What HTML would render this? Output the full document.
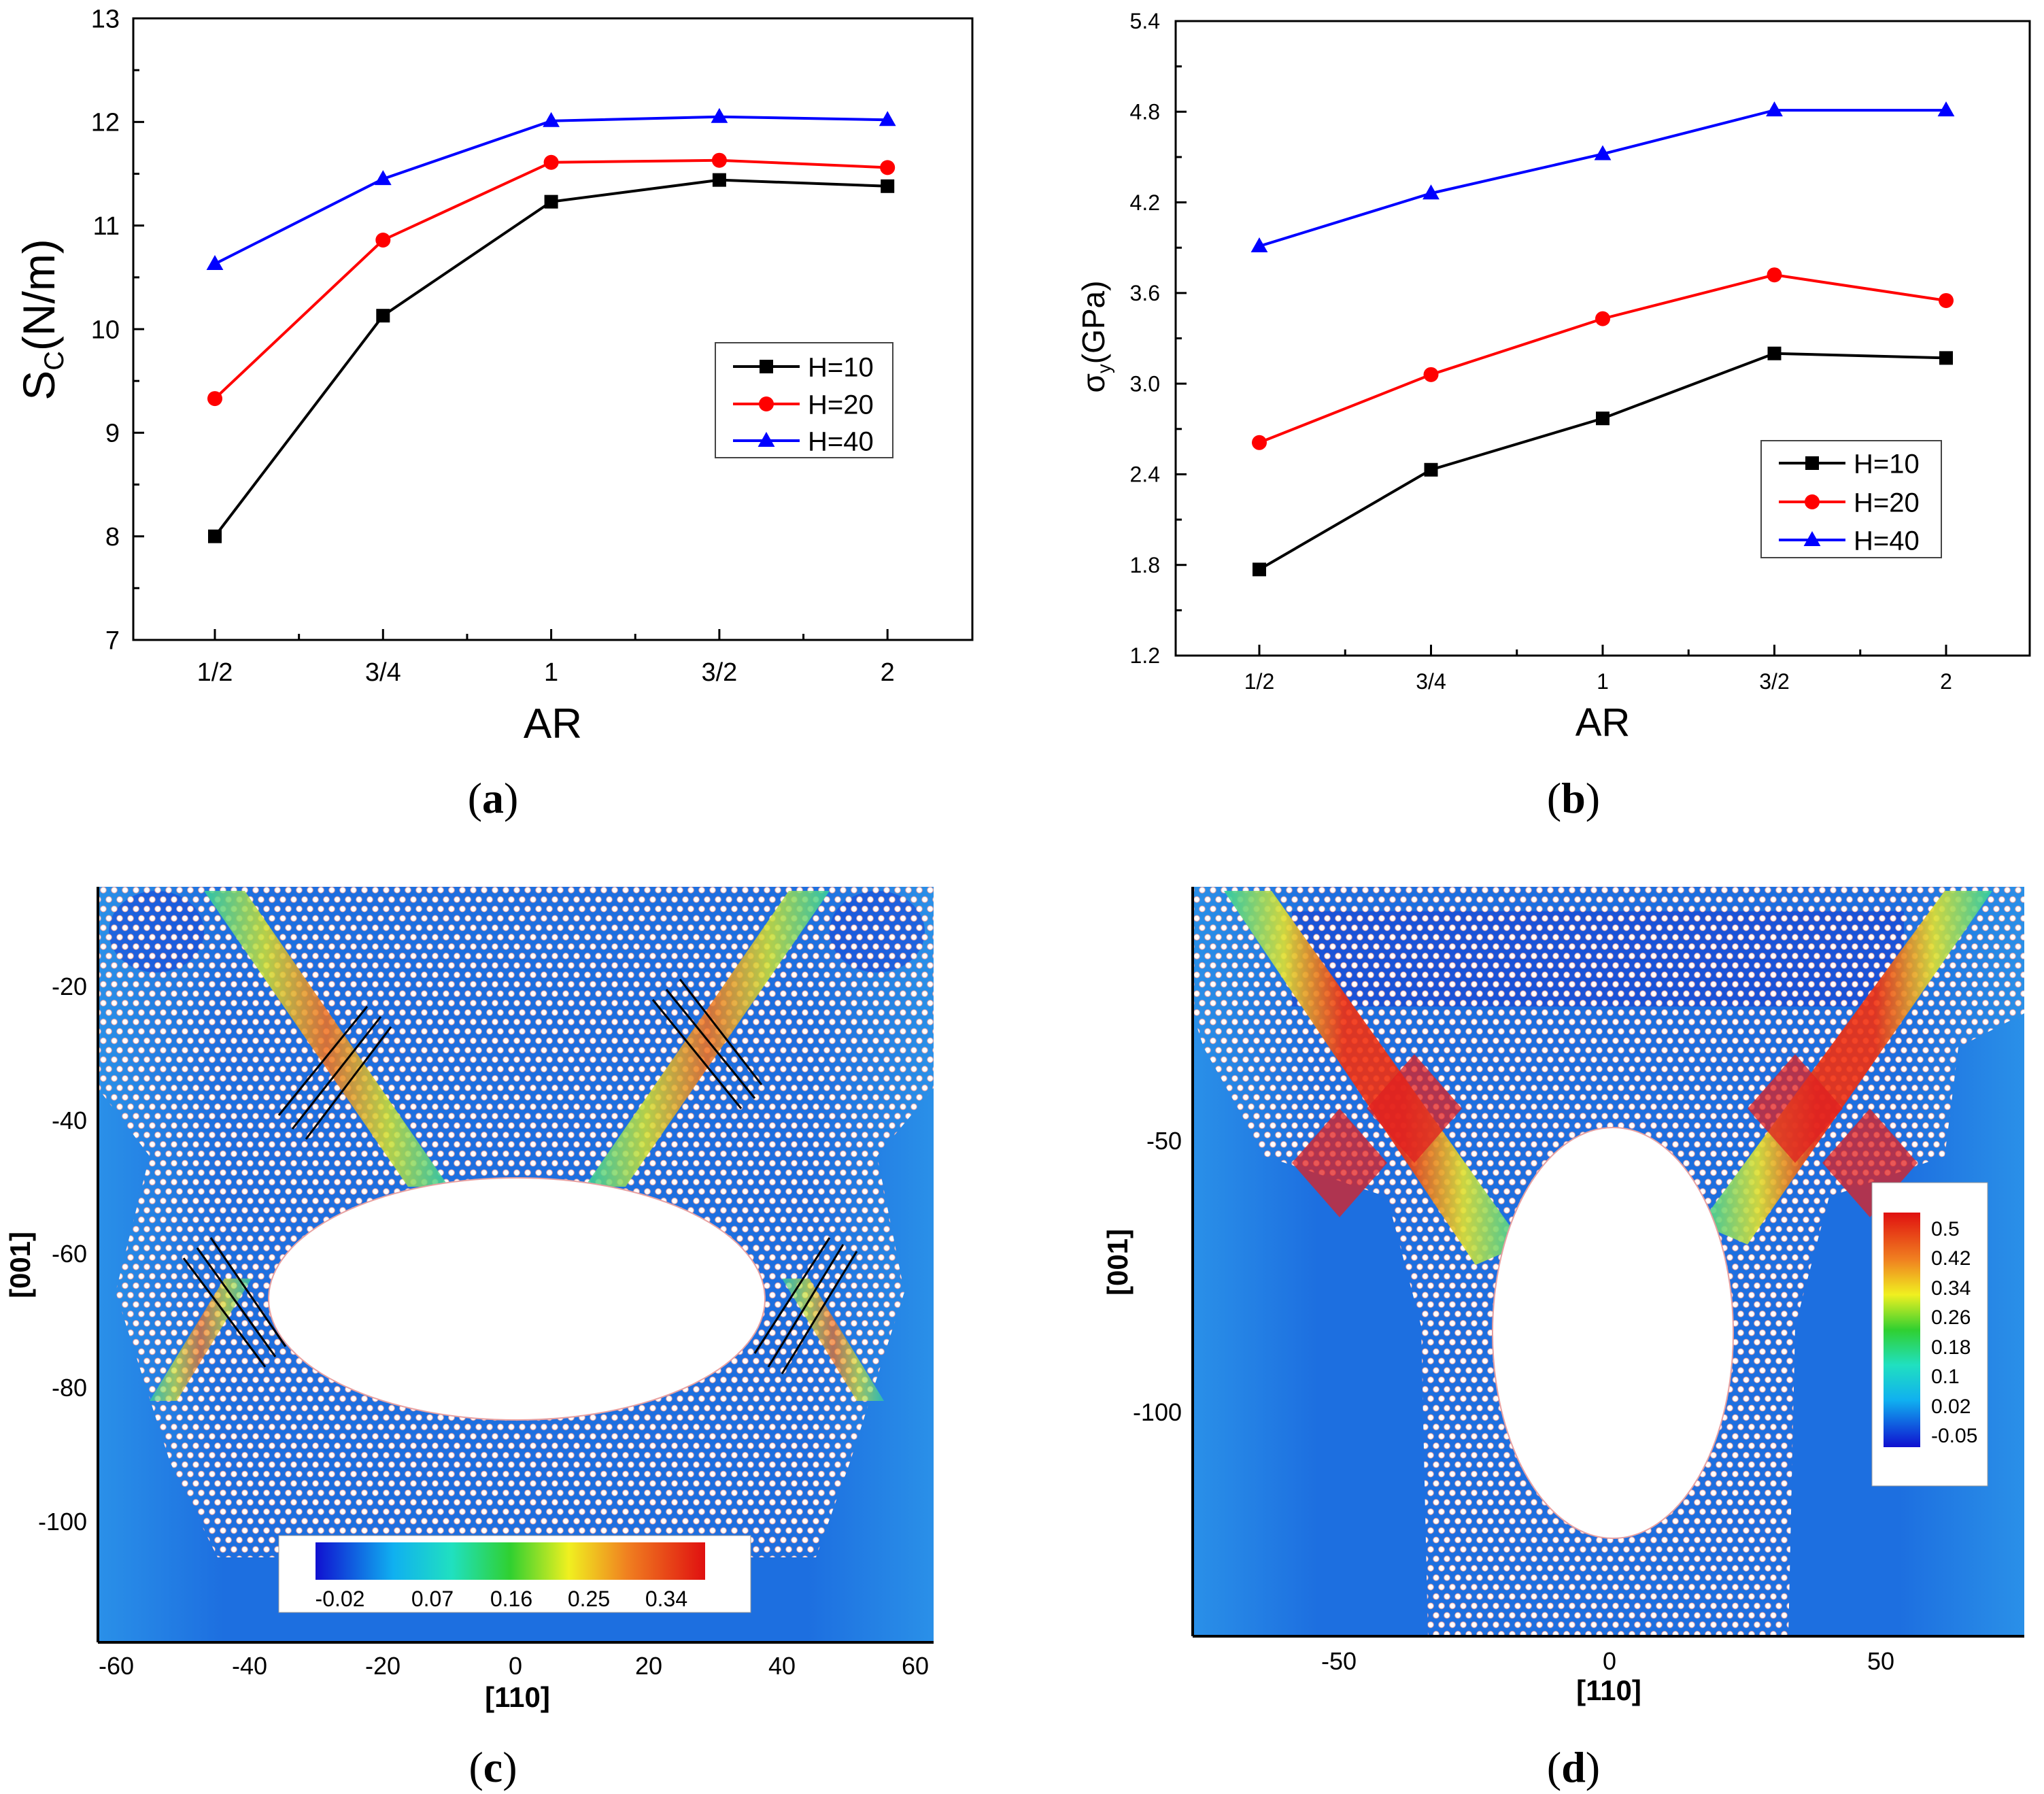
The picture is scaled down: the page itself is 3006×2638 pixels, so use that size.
<!DOCTYPE html>
<html><head><meta charset="utf-8"><style>
html,body{margin:0;padding:0;background:#fff;}
svg{display:block;font-family:"Liberation Sans",sans-serif;}
</style></head><body>
<svg id="fig" width="3006" height="2638" viewBox="0 0 3006 2638">
<defs>
<pattern id="lat" patternUnits="userSpaceOnUse" width="16" height="27.7">
<circle cx="8" cy="6.9" r="4.3" fill="#fff" stroke="#e8a0a0" stroke-width="1"/>
<circle cx="0" cy="20.8" r="4.3" fill="#fff" stroke="#e8a0a0" stroke-width="1"/>
<circle cx="16" cy="20.8" r="4.3" fill="#fff" stroke="#e8a0a0" stroke-width="1"/>
</pattern>
<linearGradient id="cbh" x1="0" x2="1" y1="0" y2="0">
<stop offset="0" stop-color="#1010d0"/><stop offset="0.2" stop-color="#10b0f0"/><stop offset="0.35" stop-color="#20e0c0"/><stop offset="0.5" stop-color="#30d030"/><stop offset="0.65" stop-color="#f0f020"/><stop offset="0.8" stop-color="#f08020"/><stop offset="1" stop-color="#e01010"/>
</linearGradient>
<linearGradient id="cbv" x1="0" x2="0" y1="1" y2="0">
<stop offset="0" stop-color="#1010d0"/><stop offset="0.2" stop-color="#10b0f0"/><stop offset="0.35" stop-color="#20e0c0"/><stop offset="0.5" stop-color="#30d030"/><stop offset="0.65" stop-color="#f0f020"/><stop offset="0.8" stop-color="#f08020"/><stop offset="1" stop-color="#e01010"/>
</linearGradient>
<linearGradient id="bandC" x1="0" x2="1"><stop offset="0" stop-color="#30d0a0"/><stop offset="0.25" stop-color="#d0e030"/><stop offset="0.5" stop-color="#f07020"/><stop offset="0.75" stop-color="#d0e030"/><stop offset="1" stop-color="#30d0a0"/></linearGradient>
<linearGradient id="bandD" x1="0" x2="1"><stop offset="0" stop-color="#30d0a0"/><stop offset="0.2" stop-color="#e0e030"/><stop offset="0.4" stop-color="#f03010"/><stop offset="0.6" stop-color="#f03010"/><stop offset="0.8" stop-color="#e0e030"/><stop offset="1" stop-color="#30d0a0"/></linearGradient>
<linearGradient id="bgC" x1="0" x2="1"><stop offset="0" stop-color="#2a90e8"/><stop offset="0.15" stop-color="#1d6fe0"/><stop offset="0.85" stop-color="#1d6fe0"/><stop offset="1" stop-color="#2a90e8"/></linearGradient>
</defs>
<g id="chartA"></g>
<g id="chartB"></g>

<!-- Panel c -->
<g>
<rect x="144" y="1304" width="1229" height="1111" fill="url(#bgC)"/>
<ellipse cx="230" cy="1370" rx="70" ry="60" fill="#1848d8" opacity="0.6"/>
<ellipse cx="1290" cy="1370" rx="70" ry="60" fill="#1848d8" opacity="0.6"/>
<polygon points="144,1304 1373,1304 1373,1600 1290,1700 1330,1900 1250,2150 1200,2290 320,2290 250,2150 170,1900 220,1700 144,1600" fill="url(#lat)"/>
<polygon points="300,1310 360,1310 660,1745 600,1745" fill="url(#bandC)" opacity="0.85"/>
<polygon points="1160,1310 1220,1310 920,1745 860,1745" fill="url(#bandC)" opacity="0.85"/>
<polygon points="330,1880 370,1880 260,2060 220,2060" fill="url(#bandC)" opacity="0.7"/>
<polygon points="1150,1880 1190,1880 1300,2060 1260,2060" fill="url(#bandC)" opacity="0.7"/>
<ellipse cx="760" cy="1910" rx="365" ry="178" fill="#fff" stroke="#e8a0a0" stroke-width="2"/>
<g stroke="#000" stroke-width="3" fill="none">
<path d="M410 1640 L540 1480 M430 1660 L560 1495 M450 1675 L575 1510"/>
<path d="M960 1470 L1090 1630 M980 1455 L1110 1615 M1000 1440 L1120 1595"/>
<path d="M270 1850 L390 2010 M290 1835 L405 1995 M310 1820 L420 1980"/>
<path d="M1130 2010 L1240 1830 M1110 1990 L1220 1820 M1150 2020 L1260 1840"/>
</g>
<rect x="410" y="2258" width="694" height="113" fill="#fff" stroke="#999"/>
<rect x="464" y="2268" width="573" height="55" fill="url(#cbh)"/>
<g font-size="32" text-anchor="middle" fill="#000">
<text x="500" y="2362">-0.02</text><text x="636" y="2362">0.07</text><text x="752" y="2362">0.16</text><text x="866" y="2362">0.25</text><text x="980" y="2362">0.34</text>
</g>
<line x1="144" y1="1304" x2="144" y2="2415" stroke="#000" stroke-width="4"/>
<line x1="144" y1="2415" x2="1373" y2="2415" stroke="#000" stroke-width="4"/>
<g font-size="36" fill="#000" text-anchor="end">
<text x="128" y="1463">-20</text><text x="128" y="1660">-40</text><text x="128" y="1856">-60</text><text x="128" y="2053">-80</text><text x="128" y="2250">-100</text>
</g>
<g font-size="36" fill="#000" text-anchor="middle">
<text x="171" y="2462">-60</text><text x="367" y="2462">-40</text><text x="563" y="2462">-20</text><text x="758" y="2462">0</text><text x="954" y="2462">20</text><text x="1150" y="2462">40</text><text x="1346" y="2462">60</text>
</g>
<text x="761" y="2510" font-size="42" font-weight="bold" text-anchor="middle">[110]</text>
<text transform="translate(44,1860) rotate(-90)" font-size="42" font-weight="bold" text-anchor="middle">[001]</text>
</g>

<!-- Panel d -->
<g>
<rect x="1754" y="1304" width="1223" height="1102" fill="url(#bgC)"/>
<rect x="1900" y="1340" width="900" height="140" fill="#1838d0" opacity="0.5"/>
<polygon points="1754,1304 2977,1304 2977,1490 2880,1540 2860,1700 2690,1760 2640,1950 2630,2406 2100,2406 2090,1950 2040,1760 1860,1700 1770,1540 1754,1490" fill="url(#lat)"/>
<polygon points="1800,1310 1870,1310 2240,1830 2170,1860" fill="url(#bandD)" opacity="0.9"/>
<polygon points="2860,1310 2930,1310 2570,1830 2500,1800" fill="url(#bandD)" opacity="0.9"/>
<polygon points="2080,1550 2150,1630 2080,1710 2010,1630" fill="#e02020" opacity="0.75"/>
<polygon points="1970,1630 2040,1710 1970,1790 1900,1710" fill="#e02020" opacity="0.75"/>
<polygon points="2640,1550 2710,1630 2640,1710 2570,1630" fill="#e02020" opacity="0.75"/>
<polygon points="2750,1630 2820,1710 2750,1790 2680,1710" fill="#e02020" opacity="0.75"/>
<ellipse cx="2372" cy="1960" rx="177" ry="302" fill="#fff" stroke="#e8a0a0" stroke-width="2"/>
<rect x="2753" y="1739" width="170" height="446" fill="#fff" stroke="#999"/>
<rect x="2770" y="1783" width="54" height="345" fill="url(#cbv)"/>
<g font-size="30" fill="#000">
<text x="2840" y="1817">0.5</text><text x="2840" y="1860">0.42</text><text x="2840" y="1904">0.34</text><text x="2840" y="1947">0.26</text><text x="2840" y="1991">0.18</text><text x="2840" y="2034">0.1</text><text x="2840" y="2078">0.02</text><text x="2840" y="2121">-0.05</text>
</g>
<line x1="1754" y1="1304" x2="1754" y2="2406" stroke="#000" stroke-width="4"/>
<line x1="1754" y1="2406" x2="2977" y2="2406" stroke="#000" stroke-width="4"/>
<g font-size="36" fill="#000" text-anchor="end">
<text x="1738" y="1690">-50</text><text x="1738" y="2089">-100</text>
</g>
<g font-size="36" fill="#000" text-anchor="middle">
<text x="1969" y="2455">-50</text><text x="2367" y="2455">0</text><text x="2766" y="2455">50</text>
</g>
<text x="2366" y="2500" font-size="42" font-weight="bold" text-anchor="middle">[110]</text>
<text transform="translate(1658,1856) rotate(-90)" font-size="42" font-weight="bold" text-anchor="middle">[001]</text>
</g>

<g font-family="Liberation Serif, serif" font-size="64" text-anchor="middle" fill="#000">
<text x="725" y="1195">(<tspan font-weight="bold">a</tspan>)</text>
<text x="2314" y="1195">(<tspan font-weight="bold">b</tspan>)</text>
<text x="725" y="2620">(<tspan font-weight="bold">c</tspan>)</text>
<text x="2314" y="2620">(<tspan font-weight="bold">d</tspan>)</text>
</g>
</svg>
<script>
const categories = ["1/2","3/4","1","3/2","2"];
const seriesNames = ["H=10","H=20","H=40"];
const seriesColors = ["#000000","#ff0000","#0000ff"];
const aH10 = [8.0, 10.13, 11.23, 11.44, 11.38];
const aH20 = [9.33, 10.86, 11.61, 11.63, 11.56];
const aH40 = [10.63, 11.45, 12.01, 12.05, 12.02];
const aTicks = [7, 8, 9, 10, 11, 12, 13];
const bH10 = [1.77, 2.43, 2.77, 3.20, 3.17];
const bH20 = [2.61, 3.06, 3.43, 3.72, 3.55];
const bH40 = [3.91, 4.26, 4.52, 4.81, 4.81];
const bTicks = [1.2, 1.8, 2.4, 3.0, 3.6, 4.2, 4.8, 5.4];

const NS = "http://www.w3.org/2000/svg";
function mk(parent, tag, attrs, text) {
  const e = document.createElementNS(NS, tag);
  for (const k in attrs) e.setAttribute(k, attrs[k]);
  if (text !== undefined) e.textContent = text;
  parent.appendChild(e);
  return e;
}
function marker(g, kind, x, y, color, s) {
  let m;
  if (kind === 0) m = mk(g, "rect", {x: x - s/2, y: y - s/2, width: s, height: s, fill: color});
  else if (kind === 1) m = mk(g, "circle", {cx: x, cy: y, r: s*0.55, fill: color});
  else m = mk(g, "polygon", {points: `${x},${y - s*0.65} ${x - s*0.62},${y + s*0.45} ${x + s*0.62},${y + s*0.45}`, fill: color});
  return m;
}
function chart(gid, o) {
  const g = document.getElementById(gid);
  const {x0, x1, y0, y1, cx0, cdx, ticks, series, fmt, tickFs, yTitle, titleFs, legend, arY, arFs, labX, xlabY} = o;
  const tmin = ticks[0], tmax = ticks[ticks.length - 1];
  const ys = v => y1 - (v - tmin) / (tmax - tmin) * (y1 - y0);
  const xs = i => cx0 + i * cdx;
  mk(g, "rect", {x: x0, y: y0, width: x1 - x0, height: y1 - y0, fill: "none", stroke: "#000", "stroke-width": 3});
  const step = ticks[1] - ticks[0];
  ticks.forEach((t, i) => {
    const y = ys(t);
    mk(g, "line", {x1: x0, y1: y, x2: x0 + 16, y2: y, stroke: "#000", "stroke-width": 3});
    if (i < ticks.length - 1) { const ym = ys(t + step/2); mk(g, "line", {x1: x0, y1: ym, x2: x0 + 9, y2: ym, stroke: "#000", "stroke-width": 3}); }
    const lab = mk(g, "text", {x: labX, y: y + tickFs*0.35, "font-size": tickFs, "text-anchor": "end"}, fmt(t));
    
    
  });
  categories.forEach((c, i) => {
    const x = xs(i);
    mk(g, "line", {x1: x, y1: y1, x2: x, y2: y1 - 16, stroke: "#000", "stroke-width": 3});
    if (i < categories.length - 1) mk(g, "line", {x1: x + cdx/2, y1: y1, x2: x + cdx/2, y2: y1 - 9, stroke: "#000", "stroke-width": 3});
    const lab = mk(g, "text", {x: x, y: xlabY, "font-size": tickFs, "text-anchor": "middle"}, c);
    
    
  });
  series.forEach((vals, si) => {
    const col = seriesColors[si];
    const pl = mk(g, "polyline", {points: vals.map((v, i) => xs(i) + "," + ys(v)).join(" "), fill: "none", stroke: col, "stroke-width": 4});
    
    
    vals.forEach((v, i) => {
      const m = marker(g, si, xs(i), ys(v), col, 20);
      
      
    });
  });
  const t = mk(g, "text", {x: (x0 + x1)/2, y: arY, "font-size": arFs, "text-anchor": "middle"}, "AR");
  
  
  const yt = mk(g, "text", {transform: `translate(${yTitle.x},${yTitle.y}) rotate(-90)`, "font-size": titleFs, "text-anchor": "middle"});
  
  
  mk(yt, "tspan", {}, yTitle.main);
  mk(yt, "tspan", {"font-size": titleFs*0.6, dy: titleFs*0.2}, yTitle.sub);
  mk(yt, "tspan", {dy: -titleFs*0.2}, yTitle.rest);
  const L = legend;
  const lg = mk(g, "g", {});
  
  
  mk(lg, "rect", {x: L.x, y: L.y, width: L.w, height: L.h, fill: "#fff", stroke: "#444", "stroke-width": 2});
  seriesNames.forEach((n, si) => {
    const y = L.ys[si];
    const e = mk(lg, "g", {});
    
    
    mk(e, "line", {x1: L.x + 26, y1: y, x2: L.x + 124, y2: y, stroke: seriesColors[si], "stroke-width": 4});
    marker(e, si, L.x + 75, y, seriesColors[si], 20);
    mk(e, "text", {x: L.x + 136, y: y + L.fs*0.36, "font-size": L.fs}, n);
  });
}
chart("chartA", {x0: 196, x1: 1430, y0: 27, y1: 941, cx0: 316, cdx: 247.3, ticks: aTicks, series: [aH10, aH20, aH40],
  fmt: v => String(v), tickFs: 38, labX: 176, xlabY: 1001, arY: 1085, arFs: 62, titleFs: 66,
  yTitle: {x: 80, y: 470, main: "S", sub: "C", rest: "(N/m)"},
  legend: {x: 1052, y: 504, w: 261, h: 169, ys: [539, 594, 648], fs: 40}});
chart("chartB", {x0: 1729, x1: 2985, y0: 31, y1: 964, cx0: 1852, cdx: 252.5, ticks: bTicks, series: [bH10, bH20, bH40],
  fmt: v => v.toFixed(1), tickFs: 32, labX: 1706, xlabY: 1013, arY: 1082, arFs: 58, titleFs: 46,
  yTitle: {x: 1624, y: 495, main: "σ", sub: "y", rest: "(GPa)"},
  legend: {x: 2590, y: 648, w: 265, h: 172, ys: [681, 738, 794], fs: 40}});
</script>
</body></html>
